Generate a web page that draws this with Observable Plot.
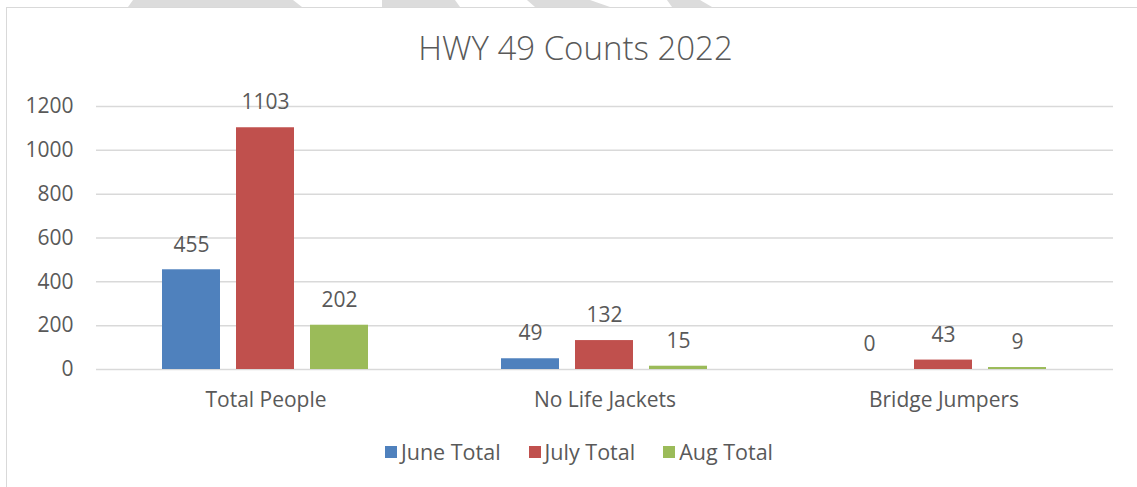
<!DOCTYPE html>
<html>
<head>
<meta charset="utf-8">
<script src="https://cdn.jsdelivr.net/npm/d3@7"></script>
<script src="https://cdn.jsdelivr.net/npm/@observablehq/plot@0.6"></script>
<style>
  html, body { margin: 0; padding: 0; background: #fff; }
  body { width: 1137px; height: 487px; overflow: hidden; position: relative; font-family: "Open Sans", Lato, sans-serif; color: #595959; }
  #watermark { position: absolute; left: 0; top: 0; }
  #frame { position: absolute; left: 6px; top: 7px; width: 1150px; height: 500px; border-top: 1.5px solid #d9d9d9; border-left: 1.5px solid #d9d9d9; }
  #title { position: absolute; left: 0; top: 25px; width: 1151px; text-align: center; font-size: 33px; font-weight: 300; color: #595959; }
  #chart { position: absolute; left: 0; top: 80px; }
  #legend { position: absolute; left: 0; top: 437px; width: 1158px; display: flex; justify-content: center; gap: 28px; font-size: 21.5px; color: #595959; }
  #legend .item { display: flex; align-items: center; gap: 4px; }
  #legend .sw { width: 12px; height: 12px; display: inline-block; }
</style>
</head>
<body>
<svg id="watermark" width="1137" height="8">
  <polygon points="133,0 293,0 302,7 128,7" fill="#dcdcdc"/>
  <polygon points="382,0 455,0 460,7 382,7" fill="#dcdcdc"/>
  <polygon points="527,0 590,0 610,7 535,7" fill="#dcdcdc"/>
  <polygon points="667,0 700,0 712,7 672,7" fill="#dcdcdc"/>
</svg>
<div id="frame"></div>
<div id="title">HWY 49 Counts 2022</div>
<div id="chart"></div>
<div id="legend"></div>
<script>
const categories = ["Total People", "No Life Jackets", "Bridge Jumpers"];
const series = ["June Total", "July Total", "Aug Total"];
const juneTotal = [455, 49, 0];
const julyTotal = [1103, 132, 43];
const augTotal = [202, 15, 9];
const colors = ["#4F81BD", "#C0504D", "#9BBB59"];
const yTicks = [0, 200, 400, 600, 800, 1000, 1200];

const valuesBySeries = [juneTotal, julyTotal, augTotal];
const rows = [];
categories.forEach((c, i) => {
  series.forEach((s, j) => rows.push({category: c, series: s, value: valuesBySeries[j][i]}));
});

const textColor = "#595959";
const chart = Plot.plot({
  width: 1137,
  height: 340,
  marginLeft: 95,
  marginRight: 24,
  marginTop: 26,
  marginBottom: 51,
  style: {fontFamily: "'Open Sans', Lato, sans-serif", fontSize: "21px", color: textColor, background: "transparent"},
  fx: {domain: categories, paddingInner: 0, paddingOuter: 0, label: null},
  x: {domain: series, axis: null, paddingInner: 0.213, paddingOuter: 0.868},
  y: {domain: [0, 1200], label: null},
  color: {domain: series, range: colors},
  marks: [
    Plot.gridY(yTicks, {stroke: "#d9d9d9", strokeOpacity: 1, strokeWidth: 1.5}),
    Plot.barY(rows, {fx: "category", x: "series", y: "value", fill: "series"}),
    Plot.text(rows, {fx: "category", x: "series", y: "value", text: d => String(d.value), dy: -25, fill: textColor, fontSize: 21}),
    Plot.axisY(yTicks, {tickSize: 0, tickPadding: 23, tickFormat: d => String(d), fill: textColor, fontSize: 21, label: null}),
    Plot.axisFx({anchor: "bottom", tickSize: 0, tickPadding: 23, fill: textColor, fontSize: 21, label: null})
  ]
});
document.getElementById("chart").appendChild(chart);

const legend = document.getElementById("legend");
series.forEach((s, i) => {
  const item = document.createElement("span");
  item.className = "item";
  const sw = document.createElement("span");
  sw.className = "sw";
  sw.style.background = colors[i];
  const label = document.createElement("span");
  label.textContent = s;
  item.appendChild(sw);
  item.appendChild(label);
  legend.appendChild(item);
});
</script>
</body>
</html>
